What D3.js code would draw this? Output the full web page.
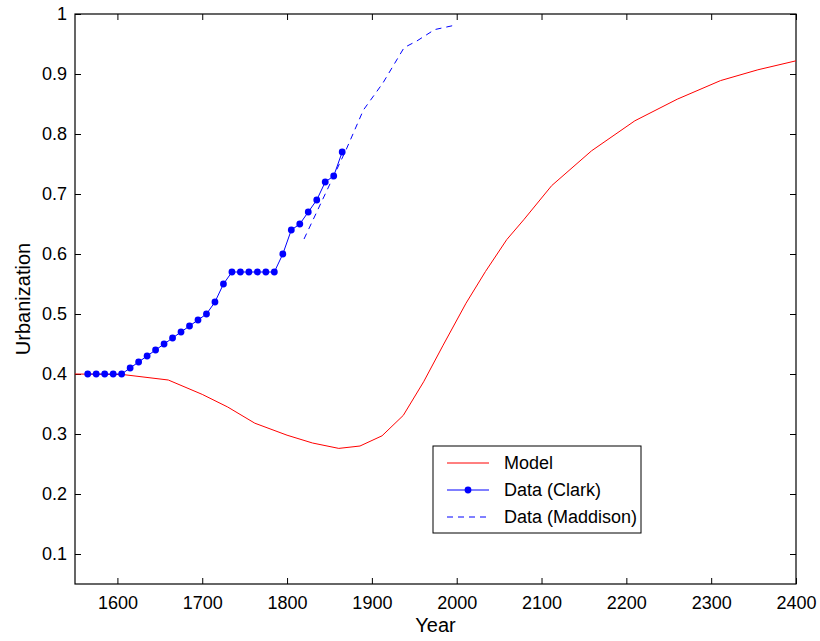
<!DOCTYPE html>
<html>
<head>
<meta charset="utf-8">
<script src="https://cdn.jsdelivr.net/npm/d3@7"></script>
<style>
body { margin: 0; background: #fff; }
svg { font-family: "Liberation Sans", Arial, sans-serif; }
</style>
</head>
<body>
<div id="chart"></div>
<script>
// model curve (red)
var modelYears = [1550, 1607, 1660, 1700, 1730, 1762, 1800, 1830, 1861, 1886, 1912, 1937, 1961, 1984, 2011, 2034, 2059, 2079, 2112, 2159, 2210, 2260, 2311, 2355, 2400];
var modelVals  = [0.400, 0.399, 0.390, 0.366, 0.345, 0.318, 0.298, 0.285, 0.276, 0.280, 0.297, 0.331, 0.387, 0.448, 0.518, 0.571, 0.624, 0.657, 0.714, 0.772, 0.822, 0.858, 0.889, 0.907, 0.922];

// Clark data (dots)
var clarkYears = [1565, 1575, 1585, 1595, 1605, 1615, 1625, 1635, 1645, 1655, 1665, 1675, 1685, 1695, 1705, 1715, 1725, 1735, 1745, 1755, 1765, 1775, 1785, 1795, 1805, 1815, 1825, 1835, 1845, 1855, 1865];
var clarkVals  = [0.40, 0.40, 0.40, 0.40, 0.40, 0.41, 0.42, 0.43, 0.44, 0.45, 0.46, 0.47, 0.48, 0.49, 0.50, 0.52, 0.55, 0.57, 0.57, 0.57, 0.57, 0.57, 0.57, 0.60, 0.64, 0.65, 0.67, 0.69, 0.72, 0.73, 0.77];

// Maddison data (dashed)
var maddYears = [1820, 1870, 1890, 1913, 1938, 1953, 1974, 2000];
var maddVals  = [0.625, 0.775, 0.840, 0.885, 0.944, 0.955, 0.974, 0.982];

var xTicks = [1600, 1700, 1800, 1900, 2000, 2100, 2200, 2300, 2400];
var yTicks = [0.1, 0.2, 0.3, 0.4, 0.5, 0.6, 0.7, 0.8, 0.9, 1];
var legendLabels = ["Model", "Data (Clark)", "Data (Maddison)"];

var width = 820, height = 641;
var pLeft = 75, pRight = 796, pTop = 14, pBottom = 584;

var svg = d3.select("#chart").append("svg")
	.attr("width", width)
	.attr("height", height);

var x = d3.scaleLinear().domain([1550, 2400]).range([pLeft, pRight]);
var y = d3.scaleLinear().domain([0.05, 1]).range([pBottom, pTop]);

function fmtY(d)
{
	return d === 1 ? "1" : d3.format(".1f")(d);
}

// axes with inward ticks, on all four sides
svg.append("g")
	.attr("class", "ax")
	.attr("transform", "translate(0," + pBottom + ")")
	.call(d3.axisBottom(x).tickValues(xTicks).tickSizeInner(-6).tickSizeOuter(0).tickPadding(12).tickFormat(d3.format("d")));
svg.append("g")
	.attr("class", "ax")
	.attr("transform", "translate(0," + pTop + ")")
	.call(d3.axisTop(x).tickValues(xTicks).tickSizeInner(-6).tickSizeOuter(0).tickFormat(""));
svg.append("g")
	.attr("class", "ax")
	.attr("transform", "translate(" + pLeft + ",0)")
	.call(d3.axisLeft(y).tickValues(yTicks).tickSizeInner(-6).tickSizeOuter(0).tickPadding(8).tickFormat(fmtY));
svg.append("g")
	.attr("class", "ax")
	.attr("transform", "translate(" + pRight + ",0)")
	.call(d3.axisRight(y).tickValues(yTicks).tickSizeInner(-6).tickSizeOuter(0).tickFormat(""));

svg.selectAll(".ax .domain").remove();
svg.selectAll(".ax text").style("font-size", "18px").attr("fill", "#000").style("font-family", "Liberation Sans, Arial, sans-serif");
svg.selectAll(".ax line").attr("stroke", "#000");

// frame
svg.append("rect")
	.attr("x", pLeft).attr("y", pTop)
	.attr("width", pRight - pLeft).attr("height", pBottom - pTop)
	.attr("fill", "none").attr("stroke", "#000").attr("stroke-width", 1.2);

var line = d3.line()
	.x(function(d) { return x(d[0]); })
	.y(function(d) { return y(d[1]); });

var modelData = d3.zip(modelYears, modelVals);
var clarkData = d3.zip(clarkYears, clarkVals);
var maddData = d3.zip(maddYears, maddVals);

svg.append("path")
	.datum(modelData)
	.attr("d", line)
	.attr("fill", "none")
	.attr("stroke", "#ff0000")
	.attr("stroke-width", 1);

svg.append("path")
	.datum(maddData)
	.attr("d", line)
	.attr("fill", "none")
	.attr("stroke", "#0000ff")
	.attr("stroke-width", 1)
	.attr("stroke-dasharray", "6,5");

svg.append("path")
	.datum(clarkData)
	.attr("d", line)
	.attr("fill", "none")
	.attr("stroke", "#0000ff")
	.attr("stroke-width", 1);

svg.selectAll("circle.clark")
	.data(clarkData)
	.enter().append("circle")
	.attr("class", "clark")
	.attr("cx", function(d) { return x(d[0]); })
	.attr("cy", function(d) { return y(d[1]); })
	.attr("r", 3.4)
	.attr("fill", "#0000ff");

// axis titles
svg.append("text")
	.attr("x", (pLeft + pRight) / 2)
	.attr("y", 632)
	.attr("text-anchor", "middle")
	.style("font-size", "20px")
	.text("Year");

svg.append("text")
	.attr("transform", "translate(30," + ((pTop + pBottom) / 2) + ") rotate(-90)")
	.attr("text-anchor", "middle")
	.style("font-size", "20px")
	.text("Urbanization");

// legend
var lg = svg.append("g").attr("transform", "translate(433,446)");
lg.append("rect")
	.attr("width", 208).attr("height", 87)
	.attr("fill", "#fff").attr("stroke", "#000").attr("stroke-width", 1);

var rows = lg.selectAll("g.row")
	.data(legendLabels)
	.enter().append("g")
	.attr("class", "row")
	.attr("transform", function(d, i) { return "translate(0," + (17 + i * 27) + ")"; });

rows.append("line")
	.attr("x1", 14).attr("x2", 56)
	.attr("stroke", function(d, i) { return i === 0 ? "#ff0000" : "#0000ff"; })
	.attr("stroke-width", 1)
	.attr("stroke-dasharray", function(d, i) { return i === 2 ? "6,5" : null; });

rows.filter(function(d, i) { return i === 1; })
	.append("circle")
	.attr("cx", 35).attr("r", 3.4).attr("fill", "#0000ff");

rows.append("text")
	.attr("x", 71)
	.attr("dy", "0.35em")
	.style("font-size", "18px")
	.text(function(d) { return d; });
</script>
</body>
</html>
